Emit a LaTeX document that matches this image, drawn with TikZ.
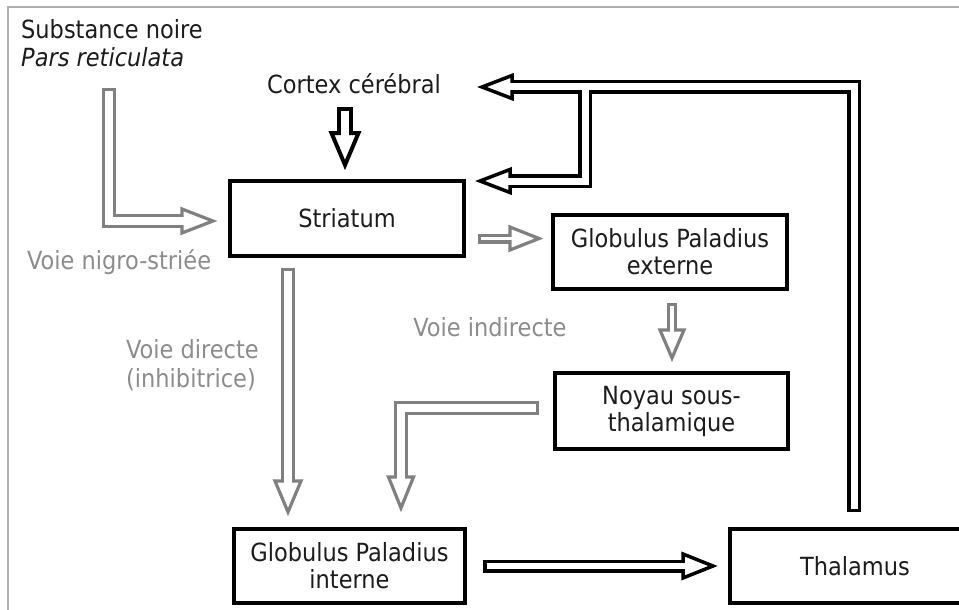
\documentclass[tikz,border=0pt]{standalone}
\usepackage{fontspec}
\setmainfont{DejaVu Sans Condensed}
\usetikzlibrary{calc}
\definecolor{arrgray}{RGB}{128,128,128}
\definecolor{txtgray}{RGB}{140,140,140}
\definecolor{txtblack}{RGB}{28,28,28}
\definecolor{framegray}{RGB}{175,175,175}
% #1 color, #2 t, #3 W, #4 Win, #5 half head, #6 head length, #7 start, #8 tip
\newcommand\StraightArrow[8]{%
  \coordinate (tmpB) at ($(#8)!#6!(#7)$);
  \draw[#1, line width=#3, line join=miter] (#7) -- (tmpB);
  \draw[#1, line width=#2, fill=white, line join=miter]
    ($(tmpB)!#5!90:(#8)$) -- (#8) -- ($(tmpB)!#5!-90:(#8)$) -- cycle;
  \draw[white, line width=#4, line join=miter] ($(#7)!#2!(tmpB)$) -- ($(tmpB)!#2!(#8)$);
}
% #1 color, #2 t, #3 W, #4 Win, #5 half head, #6 head length, #7 start, #8 corner, #9 tip
\newcommand\BentArrow[9]{%
  \coordinate (tmpB) at ($(#9)!#6!(#8)$);
  \draw[#1, line width=#3, line join=miter] (#7) -- (#8) -- (tmpB);
  \draw[#1, line width=#2, fill=white, line join=miter]
    ($(tmpB)!#5!90:(#9)$) -- (#9) -- ($(tmpB)!#5!-90:(#9)$) -- cycle;
  \draw[white, line width=#4, line join=miter] ($(#7)!#2!(#8)$) -- (#8) -- ($(tmpB)!#2!(#9)$);
}
\tikzset{
  txt/.style={font=\fontsize{25}{28}\selectfont, text=txtblack, inner sep=0pt},
  gtxt/.style={font=\fontsize{25}{29}\selectfont, text=txtgray, inner sep=0pt},
  box/.style={draw=black, line width=4pt, align=center, inner sep=2pt,
    font=\fontsize{25}{27}\selectfont, text=txtblack},
}
\begin{document}
\begin{tikzpicture}[x=1pt,y=-1pt]
\clip (0,0) rectangle (959,610);
\fill[white] (0,0) rectangle (959,610);
\draw[framegray, line width=1.5pt] (8,610) -- (8,7) -- (959,7);

% labels
\node[txt, anchor=north west, align=left] (sn) at (21,19) {Substance noire\\\textit{Pars reticulata}};
\node[txt, anchor=base] (cortex) at (354,94) {Cortex cérébral};
\node[gtxt, anchor=base west] (lnigro) at (27,269) {Voie nigro-striée};
\node[gtxt, anchor=north west, align=left] (ldirect) at (126,339) {Voie directe\\(inhibitrice)};
\node[gtxt, anchor=base] (lindirect) at (490,336) {Voie indirecte};

% boxes
\node[box, minimum width=234pt, minimum height=75pt] (str) at (347,218.5) {Striatum};
\node[box, minimum width=234pt, minimum height=74pt] (gpe) at (670,252) {Globulus Paladius\\externe};
\node[box, minimum width=233pt, minimum height=76pt] (nst) at (671.5,411) {Noyau sous-\\thalamique};
\node[box, minimum width=231pt, minimum height=74pt] (gpi) at (349.5,566) {Globulus Paladius\\interne};
\node[box, minimum width=250pt, minimum height=74pt] (thal) at (855,566) {Thalamus};

% arrow end points
\coordinate (cxs) at ($(str.north)+(-2,-72)$);
\coordinate (cxt) at ($(str.north)+(-2,-14)$);
\coordinate (ngt) at ($(str.west)+(-15,2.5)$);
\coordinate (ngs) at ($(str.west)+(-119,-130.5)$);
\coordinate (ngc) at (ngs |- ngt);
\coordinate (sgs) at ($(str.east)+(12,20)$);
\coordinate (sgt) at ($(gpe.west)+(-12,-13.5)$);
\coordinate (gns) at ($(gpe.south)+(2,12)$);
\coordinate (gnt) at ($(nst.north)+(0.5,-13)$);
\coordinate (drs) at ($(str.south)+(-59,10)$);
\coordinate (drt) at ($(gpi.north)+(-61.5,-15)$);
\coordinate (nis) at ($(nst.west)+(-14,-3)$);
\coordinate (nit) at ($(gpi.north)+(51.5,-19)$);
\coordinate (nic) at (nit |- nis);
\coordinate (gts) at ($(gpi.east)+(16,0)$);
\coordinate (gtt) at ($(thal.west)+(-15,0)$);

% black arrows
\StraightArrow{black}{4pt}{16pt}{8pt}{13.5pt}{32pt}{cxs}{cxt}
\StraightArrow{black}{3.5pt}{13pt}{6pt}{12pt}{30pt}{gts}{gtt}

% gray arrows
\BentArrow{arrgray}{3.2pt}{14pt}{7.6pt}{12pt}{31pt}{ngs}{ngc}{ngt}
\StraightArrow{arrgray}{3.2pt}{10pt}{3.6pt}{11.5pt}{29pt}{sgs}{sgt}
\StraightArrow{arrgray}{3.2pt}{10pt}{3.6pt}{12pt}{28pt}{gns}{gnt}
\StraightArrow{arrgray}{3.2pt}{14pt}{7.6pt}{13pt}{31pt}{drs}{drt}
\BentArrow{arrgray}{3.2pt}{14pt}{7.6pt}{12.5pt}{31pt}{nis}{nic}{nit}

% feedback thalamus -> cortex / striatum
\coordinate (fbs) at ($(thal.north)+(-1,-15)$);
\coordinate (fbt) at ($(str.east)+(16,-131.5)$);
\coordinate (fbc) at (fbs |- fbt);
\coordinate (fbB) at ($(fbt)!30pt!(fbc)$);
\coordinate (fbj) at ($(fbt)+(103,0)$);
\coordinate (fb2t) at ($(str.east)+(14,-37.5)$);
\coordinate (fb2c) at (fbj |- fb2t);
\coordinate (fb2B) at ($(fb2t)!30pt!(fb2c)$);
\draw[black, line width=14pt, line join=miter] (fbs) -- (fbc) -- (fbB);
\draw[black, line width=14pt, line join=miter] (fbj) -- (fb2c) -- (fb2B);
\draw[black, line width=3.5pt, fill=white, line join=miter]
  ($(fbB)!11.5pt!90:(fbt)$) -- (fbt) -- ($(fbB)!11.5pt!-90:(fbt)$) -- cycle;
\draw[black, line width=3.5pt, fill=white, line join=miter]
  ($(fb2B)!11.5pt!90:(fb2t)$) -- (fb2t) -- ($(fb2B)!11.5pt!-90:(fb2t)$) -- cycle;
\draw[white, line width=7pt, line join=miter] ($(fbs)!3.5pt!(fbc)$) -- (fbc) -- ($(fbB)!3.5pt!(fbt)$);
\draw[white, line width=7pt, line join=miter] (fbj) -- (fb2c) -- ($(fb2B)!3.5pt!(fb2t)$);
\end{tikzpicture}
\end{document}
